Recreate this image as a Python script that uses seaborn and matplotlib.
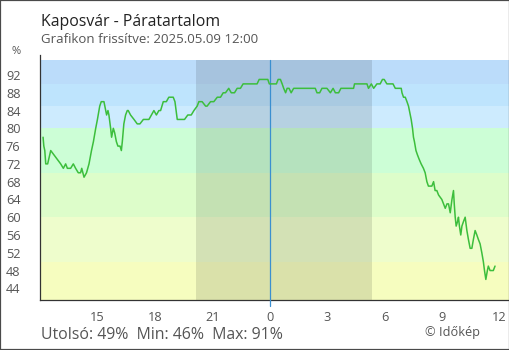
import matplotlib
matplotlib.use("Agg")
import matplotlib.pyplot as plt
from matplotlib.patches import Rectangle
import seaborn as sns
import pandas as pd

# Relative humidity at Kaposvár, hours relative to 2025-05-09 00:00
hours = [
    -11.84, -11.80, -11.75, -11.70, -11.60, -11.44, -11.09, -10.92, -10.78, -10.66,
    -10.57, -10.40, -10.26, -10.14, -10.00, -9.88, -9.82, -9.70, -9.57, -9.44,
    -9.31, -9.21, -9.09, -9.00, -8.88, -8.80, -8.66, -8.57, -8.52, -8.45,
    -8.40, -8.31, -8.26, -8.17, -8.10, -8.01, -7.93, -7.82, -7.75, -7.70,
    -7.62, -7.53, -7.44, -7.39, -7.27, -7.09, -6.92, -6.78, -6.60, -6.31,
    -6.05, -5.92, -5.79, -5.70, -5.56, -5.40, -5.27, -5.04, -4.95, -4.83,
    -4.66, -4.45, -4.28, -4.10, -3.96, -3.79, -3.70, -3.53, -3.35, -3.27,
    -3.09, -2.92, -2.74, -2.57, -2.43, -2.31, -2.14, -2.01, -1.84, -1.70,
    -1.53, -1.39, -0.66, -0.55, -0.10, -0.02, 0.35, 0.44, 0.56, 0.65,
    0.73, 0.83, 0.91, 1.01, 1.12, 1.25, 2.38, 2.47, 2.61, 2.73,
    2.99, 3.17, 3.31, 3.43, 3.60, 3.72, 4.38, 4.43, 5.08, 5.16,
    5.31, 5.43, 5.60, 5.77, 5.89, 5.98, 6.12, 6.44, 6.56, 6.87,
    6.91, 6.99, 7.08, 7.17, 7.25, 7.34, 7.39, 7.46, 7.51, 7.56,
    7.64, 7.72, 7.81, 7.91, 8.03, 8.12, 8.21, 8.29, 8.38, 8.47,
    8.56, 8.64, 8.73, 8.82, 8.99, 9.08, 9.17, 9.26, 9.34, 9.43,
    9.52, 9.60, 9.64, 9.69, 9.74, 9.81, 9.86, 9.91, 9.98, 10.04,
    10.12, 10.21, 10.30, 10.38, 10.47, 10.56, 10.64, 10.73, 10.82, 10.90,
    10.99, 11.08, 11.16, 11.22, 11.29, 11.37, 11.42, 11.51, 11.60, 11.68,
    11.77,
]
humidity = [
    78, 76, 75, 72, 72, 75, 73, 72, 71, 72,
    71, 71, 72, 71, 70, 70, 71, 69, 70, 72,
    75, 77, 80, 82, 85, 86, 86, 84, 83, 84,
    83, 80, 78, 80, 79, 77, 76, 76, 75, 77,
    81, 83, 84, 84, 83, 82, 81, 81, 82, 82,
    84, 83, 84, 84, 86, 86, 87, 87, 86, 82,
    82, 82, 83, 83, 84, 85, 86, 86, 85, 85,
    86, 86, 87, 87, 88, 88, 89, 88, 88, 89,
    89, 90, 90, 91, 91, 90, 90, 91, 91, 90,
    89, 88, 89, 89, 88, 89, 89, 88, 88, 89,
    89, 88, 89, 88, 88, 89, 89, 90, 90, 89,
    90, 89, 90, 90, 91, 91, 90, 90, 89, 89,
    88, 87, 87, 86, 85, 83, 82, 80, 78, 77,
    75, 74, 73, 72, 71, 70, 68, 67, 67, 67,
    68, 66, 66, 65, 64, 63, 62, 63, 63, 61,
    64, 66, 63, 60, 58, 59, 60, 58, 56, 58,
    59, 60, 57, 55, 53, 53, 55, 57, 56, 55,
    54, 52, 50, 48, 46, 48, 49, 48, 48, 48,
    49,
]

tick_hours = [-12, -9, -6, -3, 0, 3, 6, 9, 12]
tick_labels = ["", "15", "18", "21", "0", "3", "6", "9", "12"]
y_ticks = [44, 48, 52, 56, 60, 64, 68, 72, 76, 80, 84, 88, 92]

# humidity colour bands (lower edge, upper edge, colour)
band_edges = [41.37, 50, 60, 70, 80, 85, 90, 95.375]
band_colors = ["#f6fdbf", "#eefdcc", "#ddfdca", "#ccfed6", "#cdebfe", "#bee4fd", "#bbdcfa"]
night_start, night_end = -3.83, 5.36

last_value, min_value, max_value = humidity[-1], min(humidity), max(humidity)

sns.set_style("white")
plt.rcParams["font.family"] = ["Open Sans", "DejaVu Sans"]

fig = plt.figure(figsize=(5.1, 3.5), dpi=100)
ax = fig.add_axes([40 / 510, 1 - 300 / 350, 469 / 510, 245 / 350])
ylo, yhi = 41.37, 96.5
ax.set_xlim(-12, 12.5)
ax.set_ylim(ylo, yhi)

for lo, hi, col in zip(band_edges[:-1], band_edges[1:], band_colors):
    ax.axhspan(lo, hi, color=col, lw=0, zorder=0)

top_frac = (band_edges[-1] - ylo) / (yhi - ylo)
ax.axvspan(night_start, night_end, ymin=0, ymax=top_frac, color="black",
           alpha=0.11, lw=0, zorder=1)
ax.axvline(0, ymin=-6 / 245, ymax=top_frac, color="#3a8fd0", lw=0.9,
           zorder=2.6, clip_on=False)

df = pd.DataFrame({"hour": hours, "humidity": humidity})
sns.lineplot(data=df, x="hour", y="humidity", ax=ax, color="#3cbe3c",
             lw=1.1, zorder=3)

ax.set_xlabel("")
ax.set_ylabel("")
ax.set_xticks(tick_hours)
ax.set_xticklabels(tick_labels)
ax.set_yticks(y_ticks)
ax.tick_params(axis="both", direction="inout", length=9, width=0.75,
               color="#333333", labelcolor="#555555", labelsize=9.2)
ax.tick_params(axis="y", pad=9.5)
ax.tick_params(axis="x", pad=3.5)
for side in ("top", "right"):
    ax.spines[side].set_visible(False)
for side in ("left", "bottom"):
    ax.spines[side].set_color("#333333")
    ax.spines[side].set_linewidth(0.9)

fig.text(41 / 510, 1 - 26 / 350, "Kaposvár - Páratartalom", fontsize=11.4,
         color="#222222", va="baseline", ha="left")
fig.text(41 / 510, 1 - 43.3 / 350, "Grafikon frissítve: 2025.05.09 12:00",
         fontsize=9.5, color="#555555", va="baseline", ha="left")
fig.text(16.5 / 510, 1 - 51 / 350, "%", fontsize=8, color="#555555",
         va="center", ha="center")
fig.text(41 / 510, 1 - 339 / 350,
         f"Utolsó: {last_value}%  Min: {min_value}%  Max: {max_value}%",
         fontsize=11.4, color="#555555", va="baseline", ha="left")
fig.text(425 / 510, 1 - 336 / 350, "© Időkép", fontsize=9.2, color="#555555",
         va="baseline", ha="left")

fig.add_artist(Rectangle((0, 0), 1, 1, transform=fig.transFigure, fill=False,
                         ec="#4a4a4a", lw=1.6, zorder=10))

fig.savefig("out.png", dpi=100)
